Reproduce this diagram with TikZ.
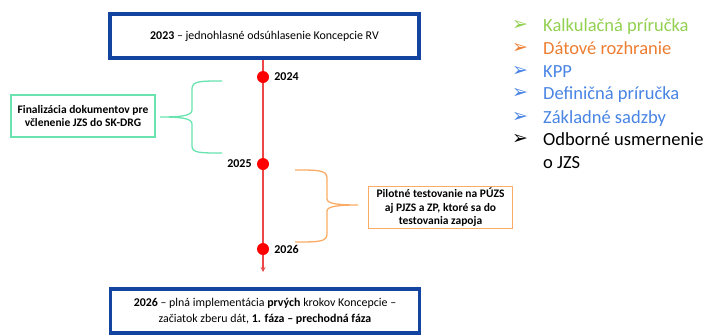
\documentclass[tikz,border=0pt]{standalone}
\usepackage{fontspec}
\setmainfont{Carlito}
\newfontfamily\arrowfont{DejaVu Sans}
\usetikzlibrary{positioning,arrows}

\definecolor{boxblue}{RGB}{18,68,160}
\definecolor{mint}{RGB}{105,228,176}
\definecolor{peach}{RGB}{250,172,102}
\definecolor{lineRed}{RGB}{236,70,70}
\definecolor{kalkGreen}{RGB}{146,208,80}
\definecolor{datOrange}{RGB}{237,125,49}
\definecolor{listBlue}{RGB}{72,132,228}

\tikzset{
milestone/.style={draw=boxblue, line width=3.6pt, minimum width=309pt, minimum height=44pt, align=center, font=\fontsize{11.9}{16}\selectfont},
note/.style={draw=#1, line width=1.3pt, minimum width=144pt, minimum height=42pt, align=center, inner sep=2pt, font=\bfseries\fontsize{11.5}{13.5}\selectfont},
dot/.style={circle, fill=red, inner sep=0pt, minimum size=12pt},
year/.style={font=\bfseries\fontsize{12}{12}\selectfont, inner sep=1pt},
brace/.style={draw=#1, line width=1.3pt},
item/.style={anchor=base west, align=left, inner sep=0pt, text=#1, font=\fontsize{18.5}{23}\selectfont},
bullet/.style={inner sep=0pt, text=#1, font=\arrowfont\fontsize{19}{19}\selectfont},
}

\begin{document}
\begin{tikzpicture}[x=1pt,y=-1pt]
\useasboundingbox (0,0) rectangle (704,335);
\clip (0,0) rectangle (704,335);

% milestones
\node[milestone] at (264.5,36) (start) {\textbf{2023} -- jednohlasné odsúhlasenie Koncepcie RV};
\node[milestone] at (265,311) (goal) {\textbf{2026} -- plná implementácia \textbf{prvých} krokov Koncepcie --\\začiatok zberu dát, \textbf{1. fáza -- prechodná fáza}};

% timeline
\coordinate (end) at (263,272);
\draw[lineRed, line width=1.2pt, -stealth] (start.south -| end) -- (end);
\node[dot] at (263,77) (y24) {};
\node[dot] at (263,164) (y25) {};
\node[dot] at (263,249) (y26) {};
\node[year, right=4pt of y24] (l24) {2024};
\node[year, left=4pt of y25] (l25) {2025};
\node[year, right=4pt of y26] (l26) {2026};

% notes
\node[note=mint] at (83,116) (final) {Finalizácia dokumentov pre\\včlenenie JZS do SK-DRG};
\node[note=peach] at (440.5,207.5) (pilot) {Pilotné testovanie na PÚZS\\aj PJZS a ZP, ktoré sa do\\testovania zapoja};

\draw[brace=mint] (222,81) .. controls (200,81) and (192,81) .. (192,89) -- (192,110)
  .. controls (192,116) and (180,117) .. (160,117)
  .. controls (180,117) and (192,118) .. (192,124) -- (192,146)
  .. controls (192,153) and (200,153) .. (222,153);
\draw[brace=peach] (295,170) .. controls (318,170) and (327,170) .. (327,178) -- (327,199)
  .. controls (327,204) and (340,205) .. (358,205)
  .. controls (340,205) and (327,206) .. (327,211) -- (327,234)
  .. controls (327,242) and (318,242) .. (295,242);

% list
\node[item=kalkGreen] at (543,31) (kalk) {Kalkulačná príručka};
\node[item=datOrange] at (543,54) (dat) {Dátové rozhranie};
\node[item=listBlue] at (543,77) (kpp) {KPP};
\node[item=listBlue] at (543,99.5) (defin) {Definičná príručka};
\node[item=listBlue] at (543,123) (sadzby) {Základné sadzby};
\node[item=black] at (543,168.5) (odb) {Odborné usmernenie\\o JZS};
\node[bullet=kalkGreen] at (520,25) (b1) {➢};
\node[bullet=datOrange] at (520,48) (b2) {➢};
\node[bullet=listBlue] at (520,71) (b3) {➢};
\node[bullet=listBlue] at (520,93.5) (b4) {➢};
\node[bullet=listBlue] at (520,117) (b5) {➢};
\node[bullet=black] at (520,139.5) (b6) {➢};
\end{tikzpicture}
\end{document}
